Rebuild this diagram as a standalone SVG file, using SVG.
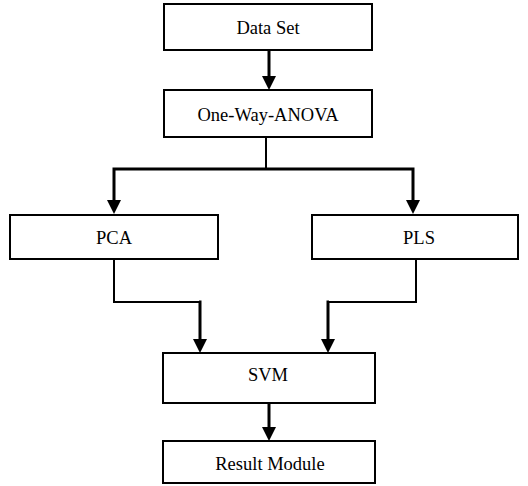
<svg xmlns="http://www.w3.org/2000/svg" width="528" height="486" viewBox="0 0 528 486">
  <style>
    .box { fill: #fff; stroke: #000; stroke-width: 2; }
    .lbl { font-size: 18.5px; fill: #000; text-anchor: middle; }
    .wire { fill: none; stroke: #000; stroke-width: 2; }
    .arrow { fill: none; stroke: #000; stroke-width: 3; }
    .head { fill: #000; }
  </style>
  <rect width="528" height="486" fill="#fff"/>

  <g id="connectors">
    <!-- Data Set -> One-Way-ANOVA -->
    <line class="arrow" x1="269" y1="50" x2="269" y2="77"/>
    <polygon class="head" points="262,76 276,76 269,90"/>
    <!-- One-Way-ANOVA split to PCA / PLS -->
    <polyline class="wire" points="266,137 266,169"/>
    <polyline class="arrow" points="114,201 114,169 413,169 413,201"/>
    <polygon class="head" points="107,200 121,200 114,214"/>
    <polygon class="head" points="406,200 420,200 413,214"/>
    <!-- PCA -> SVM -->
    <polyline class="wire" points="114,259 114,302 200,302"/>
    <polyline class="arrow" points="199,302 200,302 200,340"/>
    <polygon class="head" points="193,339 207,339 200,353"/>
    <!-- PLS -> SVM -->
    <polyline class="wire" points="416,259 416,302 328,302"/>
    <polyline class="arrow" points="329,302 328,302 328,340"/>
    <polygon class="head" points="321,339 335,339 328,353"/>
    <!-- SVM -> Result Module -->
    <line class="arrow" x1="269" y1="403" x2="269" y2="428"/>
    <polygon class="head" points="262,427 276,427 269,441"/>
  </g>

  <g font-family="'Liberation Serif', 'Times New Roman', serif">
    <g id="data-set">
      <rect class="box" x="164" y="4" width="208" height="46"/>
      <text class="lbl" x="268" y="34">Data Set</text>
    </g>
    <g id="anova">
      <rect class="box" x="164" y="90" width="208" height="47"/>
      <text class="lbl" x="268" y="121">One-Way-ANOVA</text>
    </g>
    <g id="pca">
      <rect class="box" x="10" y="215" width="208" height="44"/>
      <text class="lbl" x="114" y="244">PCA</text>
    </g>
    <g id="pls">
      <rect class="box" x="312" y="215" width="206" height="44"/>
      <text class="lbl" x="419" y="244">PLS</text>
    </g>
    <g id="svm">
      <rect class="box" x="163" y="353" width="212" height="50"/>
      <text class="lbl" x="268" y="381">SVM</text>
    </g>
    <g id="result-module">
      <rect class="box" x="163" y="441" width="212" height="42"/>
      <text class="lbl" x="270" y="470">Result Module</text>
    </g>
  </g>
</svg>
